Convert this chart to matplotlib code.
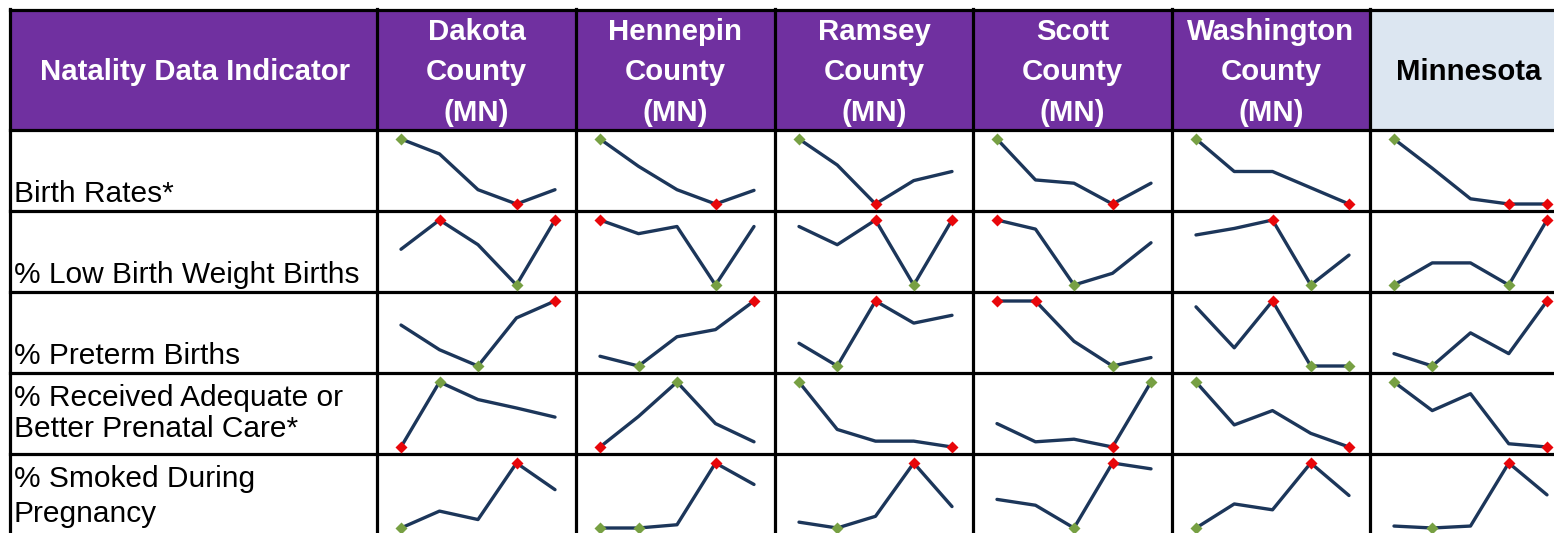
import matplotlib
matplotlib.use("Agg")
import matplotlib.pyplot as plt
from matplotlib.patches import Rectangle

plt.rcParams['font.family'] = ['Liberation Sans', 'DejaVu Sans']

# ---------------- data (relative values read from the sparklines) ----------------
columns = ["Dakota\nCounty\n(MN)", "Hennepin\nCounty\n(MN)", "Ramsey\nCounty\n(MN)",
           "Scott\nCounty\n(MN)", "Washington\nCounty\n(MN)", "Minnesota"]
indicators = ["Birth Rates*", "% Low Birth Weight Births", "% Preterm Births",
              "% Received Adequate or\nBetter Prenatal Care*", "% Smoked During\nPregnancy"]

birth_rates = [[100, 77, 22, 0, 22], [100, 58, 22, 0, 21], [100, 60, 0, 36, 50],
               [100, 37, 32, 0, 32], [100, 50, 50, 25, 0], [100, 55, 8, 0, 0]]
low_birth_weight = [[55, 100, 62, 0, 100], [100, 79, 90, 0, 90], [90, 62, 100, 0, 100],
                    [100, 86, 0, 18, 65], [77, 87, 100, 0, 46], [0, 34, 34, 0, 100]]
preterm = [[63, 25, 0, 74, 100], [15, 0, 45, 56, 100], [35, 0, 100, 66, 78],
           [100, 100, 38, 0, 13], [91, 28, 100, 0, 0], [19, 0, 51, 19, 100]]
prenatal_care = [[0, 100, 73, 60, 46], [0, 47, 100, 36, 8], [100, 27, 9, 9, 0],
                 [36, 8, 12, 0, 100], [100, 34, 56, 21, 0], [100, 56, 82, 5, 0]]
smoked = [[0, 26, 13, 100, 59], [0, 0, 5, 100, 67], [9, 0, 18, 100, 33],
          [44, 35, 0, 100, 91], [0, 37, 28, 100, 50], [3, 0, 3, 100, 51]]
series = [birth_rates, low_birth_weight, preterm, prenatal_care, smoked]
# True when a high value is "good" (high marked green, low marked red)
high_is_good = [True, False, False, True, False]

# ---------------- layout ----------------
W, H = 1554, 533
col_edges = [10, 377, 576, 775, 973, 1172, 1370, 1568]
row_edges = [10, 130, 211, 292, 373, 454, 535]
label_baselines = [[202], [283], [364], [406, 437], [487, 522]]
header_baselines = [40, 80.5, 121]

PURPLE = "#7030A0"
LIGHTBLUE = "#DCE6F1"
LINE = "#1C365A"
RED = "#E8060A"
GREEN = "#77A043"

fig = plt.figure(figsize=(W / 100, H / 100), dpi=100)
bg = fig.add_axes([0, 0, 1, 1])
bg.set_xlim(0, W)
bg.set_ylim(H, 0)
bg.axis("off")

# header fills
bg.add_patch(Rectangle((col_edges[0], row_edges[0]), col_edges[6] - col_edges[0],
                       row_edges[1] - row_edges[0], facecolor=PURPLE, edgecolor="none"))
bg.add_patch(Rectangle((col_edges[6], row_edges[0]), col_edges[7] - col_edges[6],
                       row_edges[1] - row_edges[0], facecolor=LIGHTBLUE, edgecolor="none"))

# grid lines
lw = 2.3
for x in col_edges:
    bg.plot([x, x], [row_edges[0] - 1, row_edges[-1]], color="black", lw=lw,
            solid_capstyle="projecting")
for y in row_edges:
    bg.plot([col_edges[0], col_edges[-1]], [y, y], color="black", lw=lw,
            solid_capstyle="projecting")

FS_H = 21.2
FS_B = 21.5
# header texts
bg.text((col_edges[0] + col_edges[1]) / 2 + 2, header_baselines[1], "Natality Data Indicator",
        color="white", fontsize=FS_H, fontweight="bold", ha="center", va="baseline")
for j, name in enumerate(columns):
    cx = (col_edges[j + 1] + col_edges[j + 2]) / 2
    lines = name.split("\n")
    if len(lines) == 1:
        bg.text(cx, header_baselines[1], lines[0], color="black", fontsize=FS_H,
                fontweight="bold", ha="center", va="baseline")
    else:
        for k, ln in enumerate(lines):
            bg.text(cx, header_baselines[k], ln, color="white", fontsize=FS_H,
                    fontweight="bold", ha="center", va="baseline")

# row labels
for i, lab in enumerate(indicators):
    for k, ln in enumerate(lab.split("\n")):
        bg.text(col_edges[0] + 4, label_baselines[i][k], ln, color="black",
                fontsize=FS_B, ha="left", va="baseline")

# sparklines
for i, ser in enumerate(series):
    top, bot = row_edges[i + 1], row_edges[i + 2]
    hi_c, lo_c = (GREEN, RED) if high_is_good[i] else (RED, GREEN)
    for j, vals in enumerate(ser):
        left, right = col_edges[j + 1], col_edges[j + 2]
        x0, x1 = left + 24, right - 21
        y0, y1 = top + 9, bot - 7
        ax = fig.add_axes([x0 / W, 1 - y1 / H, (x1 - x0) / W, (y1 - y0) / H])
        ax.set_xlim(0, len(vals) - 1)
        ax.set_ylim(min(vals), max(vals))
        ax.axis("off")
        xs = list(range(len(vals)))
        ax.plot(xs, vals, color=LINE, lw=2.4, clip_on=False, zorder=2,
                solid_joinstyle="round", solid_capstyle="round")
        vmax, vmin = max(vals), min(vals)
        for xv, v in zip(xs, vals):
            if v == vmax:
                ax.plot([xv], [v], marker="D", ms=6.5, color=hi_c, mec="none",
                        clip_on=False, zorder=3)
            elif v == vmin:
                ax.plot([xv], [v], marker="D", ms=6.5, color=lo_c, mec="none",
                        clip_on=False, zorder=3)

fig.savefig("out.png", dpi=100)
